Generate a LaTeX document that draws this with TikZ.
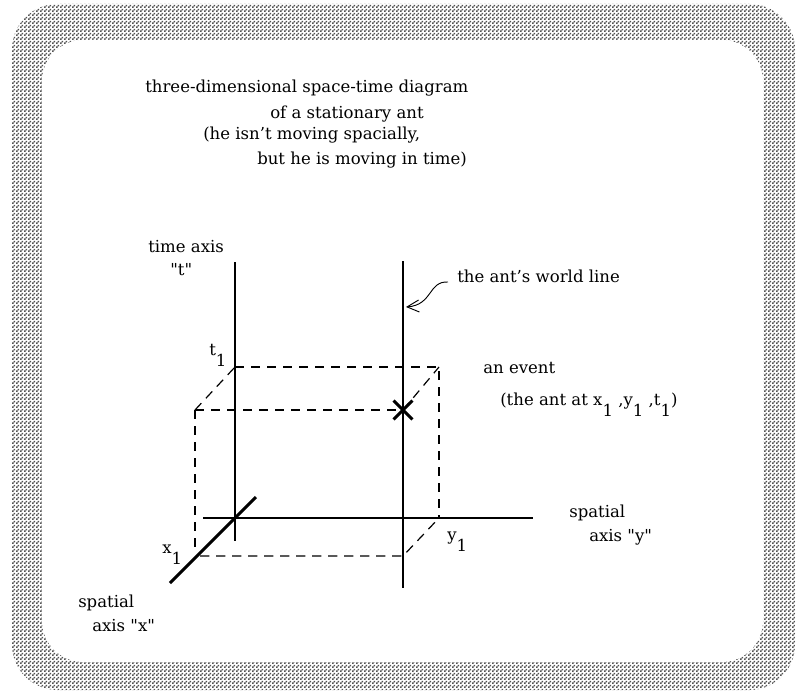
\documentclass[tikz,border=0pt]{standalone}
\usepackage{fontspec}
\setmainfont{DejaVu Serif}
\usetikzlibrary{
  arrows.meta, % 开口箭头
  patterns,    % 网格填充
  shapes.misc  % 叉号
}

% 细小的棋盘格
\pgfdeclarepatternformonly{finechecks}{\pgfqpoint{0pt}{0pt}}{\pgfqpoint{3pt}{3pt}}{\pgfqpoint{3pt}{3pt}}{%
  \pgfpathrectangle{\pgfqpoint{0pt}{0pt}}{\pgfqpoint{1.5pt}{1.5pt}}%
  \pgfpathrectangle{\pgfqpoint{1.5pt}{1.5pt}}{\pgfqpoint{1.5pt}{1.5pt}}%
  \pgfusepath{fill}}

% 下沉的下标
\newcommand\lowsub[1]{\raisebox{-8.5pt}{#1}}
\newcommand\dq{\textquotedbl}

\tikzset{
  axisline/.style={line width=2.2pt},
  projline/.style={line width=0.9pt, dash pattern=on 7pt off 5pt},
  lbl/.style={anchor=base west, inner sep=0pt, font=\fontsize{12.4}{14}\selectfont},
}

\begin{document}
\begin{tikzpicture}[x=0.75pt, y=-0.75pt]
  \useasboundingbox (0,0) rectangle (804,692);

  % 边框
  \fill[pattern=finechecks, pattern color=black!68, rounded corners=34pt] (12,4) rectangle (795,690);
  \fill[white, rounded corners=31pt] (42,40) rectangle (763,662);

  % 标题
  \node[lbl] (title1) at (145,93)  {three-dimensional space-time diagram};
  \node[lbl] (title2) at (270,118) {of a stationary ant};
  \node[lbl] (title3) at (203,140) {(he isn’t moving spacially,};
  \node[lbl] (title4) at (257,165) {but he is moving in time)};

  % 轴端点
  \coordinate (tTop) at (235,262);
  \coordinate (tBot) at (235,541);
  \coordinate (wTop) at (403,261);
  \coordinate (wBot) at (403,588);
  \coordinate (yL)   at (203,518);
  \coordinate (yR)   at (533,518);
  \coordinate (xF)   at (170,583);
  \coordinate (xB)   at (256,497);

  % 立方体的角
  \coordinate (T1)  at (235,367);
  \coordinate (B)   at (439,367);
  \coordinate (F)   at (195,410);
  \coordinate (Fb)  at (195,550);
  \coordinate (X1r) at (200,556);
  \coordinate (C)   at (403,556);
  \coordinate (Y1)  at (439,518);

  % 事件
  \node[cross out, draw, line width=2.2pt, minimum size=12pt, inner sep=0pt] (evt) at (403,410) {};

  % 虚线投影
  \draw[projline] (T1) -- (B) -- (Y1);
  \draw[projline] (F) -- (T1);
  \draw[projline] (F) -- (evt.center);
  \draw[projline] (evt.center) -- (B);
  \draw[projline] (F) -- (Fb);
  \draw[projline] (X1r) -- (C) -- (Y1);

  % 三条轴与世界线
  \draw[axisline] (tTop) -- (tBot);
  \draw[axisline] (wTop) -- (wBot);
  \draw[axisline] (yL) -- (yR);
  \draw[axisline] (xF) -- (xB);

  % 标注
  \node[lbl] (tname1) at (148,252) {time axis};
  \node[lbl] (tname2) at (170,275) {\dq t\dq};
  \node[lbl] (t1lbl)  at (209,355) {t\lowsub{1}};
  \node[lbl] (x1lbl)  at (162,553) {x\lowsub{1}};
  \node[lbl] (y1lbl)  at (447,540) {y\lowsub{1}};
  \node[lbl] (yname1) at (569,517) {spatial};
  \node[lbl] (yname2) at (589,541) {axis \dq y\dq};
  \node[lbl] (xname1) at (78,607)  {spatial};
  \node[lbl] (xname2) at (92,631)  {axis \dq x\dq};
  \node[lbl] (evname) at (483,373) {an event};
  \node[lbl] (evtext) at (500,405) {(the ant at x\lowsub{1} ,y\lowsub{1} ,t\lowsub{1})};
  \node[lbl] (wlname) at (457,282) {the ant’s world line};

  % 指向世界线的箭头
  \coordinate (wlTail) at (448,282);
  \coordinate (wlTip)  at (406,307);
  \draw[-{Straight Barb[length=9pt, width=9pt]}, line width=0.7pt]
    (wlTail) .. controls (428,281) and (433,305) .. (wlTip);
\end{tikzpicture}
\end{document}
